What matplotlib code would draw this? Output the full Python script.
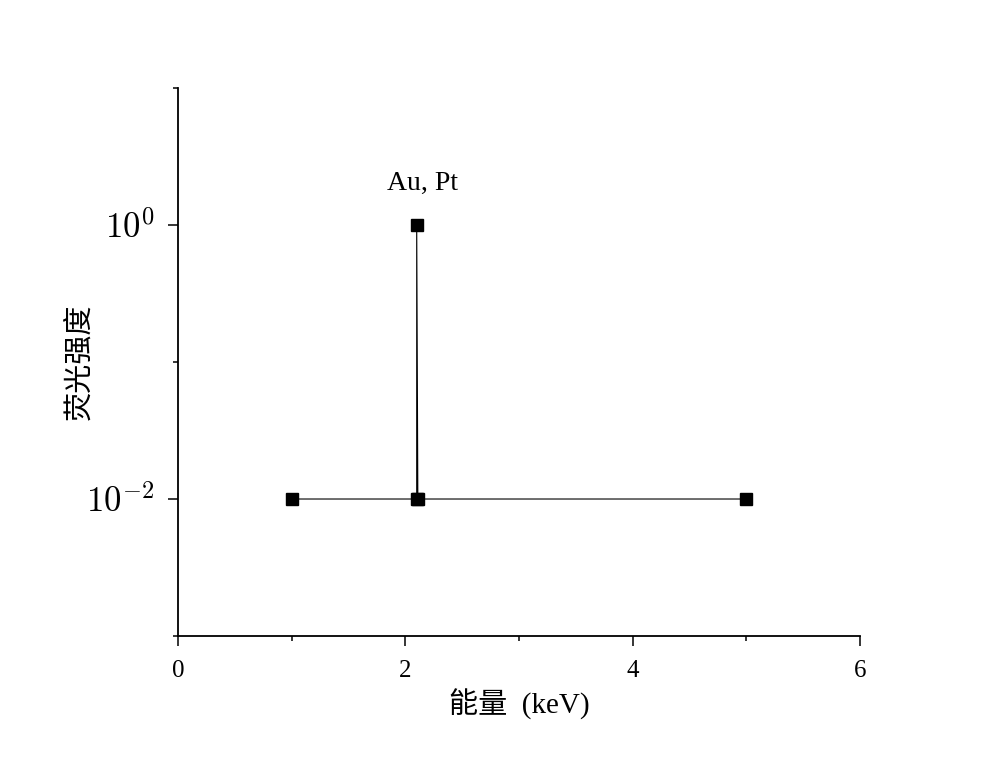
import matplotlib
matplotlib.use("Agg")
import matplotlib.pyplot as plt
from matplotlib.ticker import FixedLocator, NullFormatter

plt.rcParams['font.family'] = ['Liberation Serif', 'Noto Sans CJK SC', 'DejaVu Sans']
plt.rcParams['mathtext.fontset'] = 'cm'

energy = [1.0, 2.1, 2.1, 2.11, 5.0]
intensity = [0.01, 0.01, 1.0, 0.01, 0.01]
peak_label = "Au, Pt"
peak_pos = (2.15, 2.0)
x_major = [0, 2, 4, 6]
x_minor = [1, 3, 5]
y_major = [1e0, 1e-2]
y_minor = [1e1, 1e-1, 1e-3]

fig = plt.figure(figsize=(10, 7.65), dpi=100)
ax = fig.add_axes([0.178, 0.1686, 0.682, 0.7164])

ax.plot(energy, intensity, color='black', linewidth=0.8, marker='s',
        markersize=8.5, markerfacecolor='black', markeredgecolor='black')
ax.set_yscale('log')
ax.set_xlim(0, 6)
ax.set_ylim(1e-3, 1e1)

ax.xaxis.set_major_locator(FixedLocator(x_major))
ax.xaxis.set_minor_locator(FixedLocator(x_minor))
ax.yaxis.set_major_locator(FixedLocator(y_major))
ax.yaxis.set_minor_locator(FixedLocator(y_minor))
ax.yaxis.set_minor_formatter(NullFormatter())
ax.set_yticklabels([r'$10^{0}$', r'$10^{-2}$'])
ax.set_xticklabels([str(v) for v in x_major])

for s in ['top', 'right']:
    ax.spines[s].set_visible(False)
for s in ['left', 'bottom']:
    ax.spines[s].set_linewidth(1.3)

ax.tick_params(axis='both', which='major', direction='out', length=7, width=1.1)
ax.tick_params(axis='both', which='minor', direction='out', length=3.5, width=1.1)
ax.tick_params(axis='x', which='major', labelsize=18, pad=10)
ax.tick_params(axis='y', which='major', labelsize=25, pad=10)

ax.set_xlabel("能量  (keV)", fontsize=21, labelpad=5.5)
ax.set_ylabel("荧光强度", fontsize=21)
ax.yaxis.set_label_coords(-0.124, 0.5)

ax.text(peak_pos[0], peak_pos[1], peak_label, ha='center', va='center', fontsize=20)

fig.savefig("out.png", dpi=100)
